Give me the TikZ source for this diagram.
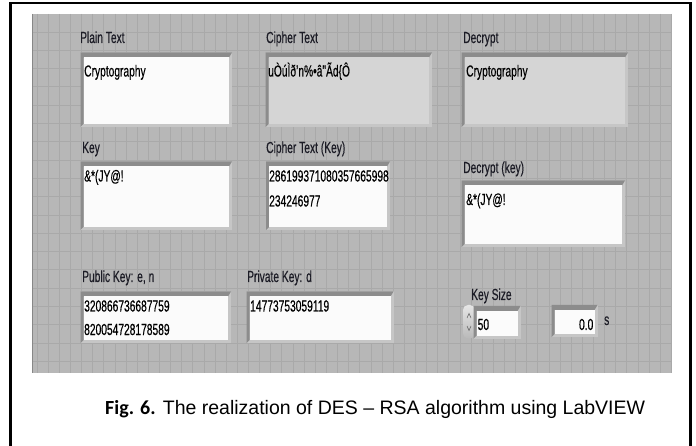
\documentclass[tikz,border=0pt]{standalone}
\usepackage{fontspec}
\setmainfont{Liberation Sans}
\newfontfamily\lvfam[FakeStretch=0.64,FakeBold=0.4]{Liberation Sans}
\newfontfamily\calfam{Carlito}
\newcommand\lvfont{\lvfam\fontsize{16}{18}\selectfont}
\definecolor{panelc}{HTML}{B7B7B7}
\definecolor{gridc}{HTML}{A9A9A9}
\definecolor{lvdark}{HTML}{8C8C8C}
\definecolor{lvlight}{HTML}{C6C6C6}
\definecolor{lvgray}{HTML}{D5D5D5}
\definecolor{lvwhite}{HTML}{FBFBFB}
\definecolor{lvtext}{HTML}{1C1C26}
\newcommand\lvbox[5]{%
  \pgfmathsetmacro\ixa{#1+3}\pgfmathsetmacro\iya{#2+5}%
  \pgfmathsetmacro\ixb{#3-3}\pgfmathsetmacro\iyb{#4-3}%
  \fill[lvlight] (#1,#2) rectangle (#3,#4);
  \fill[lvdark] (#1,#4) -- (#1,#2) -- (#3,#2) -- (\ixb,\iya) -- (\ixa,\iya) -- (\ixa,\iyb) -- cycle;
  \fill[#5] (\ixa,\iya) rectangle (\ixb,\iyb);
}
\tikzset{
  lbl/.style={anchor=base west, inner sep=0pt, font=\lvfont, text=lvtext},
  val/.style={anchor=base west, inner sep=0pt, font=\lvfont, text=black},
  gridline/.style={draw=gridc, line width=0.8pt},
}
\begin{document}
\begin{tikzpicture}[x=1pt,y=-1pt]
\useasboundingbox (0,0) rectangle (696,446);
\fill[white] (0,0) rectangle (696,446);
% outer frame
\draw[black, line width=2.5pt] (10.7,447) -- (10.7,3) -- (690.7,3) -- (690.7,447);
% panel
\fill[panelc] (32,14) rectangle (672,373);
\foreach \k in {0,...,57} \draw[gridline] ({37+11.13*\k},14) -- ({37+11.13*\k},373);
\foreach \k in {0,...,18} \draw[gridline] (32,{32+18.3*\k}) -- (672,{32+18.3*\k});
\draw[gridc!80!black, line width=0.8pt] (32.4,14) -- (32.4,373);

% row 1
\lvbox{80.5}{52.5}{232}{127}{lvwhite}
\lvbox{265.5}{52.5}{432}{127}{lvgray}
\lvbox{461.5}{52.5}{628}{127}{lvgray}
\node[lbl] (lplain) at (80,43) {Plain Text};
\node[lbl] (lcipher) at (266,43) {Cipher Text};
\node[lbl] (ldec) at (463,43) {Decrypt};
\node[val] (vplain) at (84,76.5) {Cryptography};
\node[val] (vcipher) at (268,76.5) {uÒúÌð’n\%•â"Ãd\{Ô};
\node[val] (vdec) at (466,76.5) {Cryptography};

% row 2
\lvbox{80.5}{161.5}{232}{230}{lvwhite}
\lvbox{266}{161.5}{390}{230}{lvwhite}
\lvbox{461.5}{180.5}{625}{247}{lvwhite}
\node[lbl] (lkey) at (82,153) {Key};
\node[lbl] (lckey) at (266,153) {Cipher Text (Key)};
\node[lbl] (ldkey) at (463,173) {Decrypt (key)};
\node[val] (vkey) at (84,181.5) {\&*(JY@!};
\node[val] (vckey1) at (269,181.5) {286199371080357665998};
\node[val] (vckey2) at (269,206.5) {234246977};
\node[val] (vdkey) at (466,205) {\&*(JY@!};

% row 3
\lvbox{80.5}{291.5}{231}{343}{lvwhite}
\lvbox{246.5}{291.5}{393.5}{343}{lvwhite}
\node[lbl] (lpub) at (82,282) {Public Key: e, n};
\node[lbl] (lpriv) at (247,282) {Private Key: d};
\node[val] (vpub1) at (84,311.5) {320866736687759};
\node[val] (vpub2) at (84,335) {820054728178589};
\node[val] (vpriv) at (250,311.5) {14773753059119};

% key size
\node[lbl] (lks) at (471,300) {Key Size};
\shade[top color=gray!20, bottom color=gray!55, rounded corners=5pt] (463,305) rectangle (475,338.5);
\draw[gray!70!black, line width=0.5pt] (467,318) -- (469,313.5) -- (471,318);
\draw[gray!70!black, line width=0.5pt] (467,326) -- (469,330.5) -- (471,326);
\lvbox{473.5}{306}{520.5}{338.5}{lvwhite}
\node[val] (vks) at (477.5,330) {50};
\lvbox{551.5}{305}{597.5}{337}{lvwhite}
\node[val, anchor=base east] (vtime) at (593.5,330) {0.0};
\node[lbl] (lsec) at (604,325) {s};

% caption
\node[anchor=base west, inner sep=0pt, font=\fontsize{19.5}{22}\selectfont] (cap) at (105,414)
  {{\calfam\bfseries\fontsize{20}{22}\selectfont Fig. 6.} The realization of DES – RSA algorithm using LabVIEW};
\end{tikzpicture}
\end{document}
